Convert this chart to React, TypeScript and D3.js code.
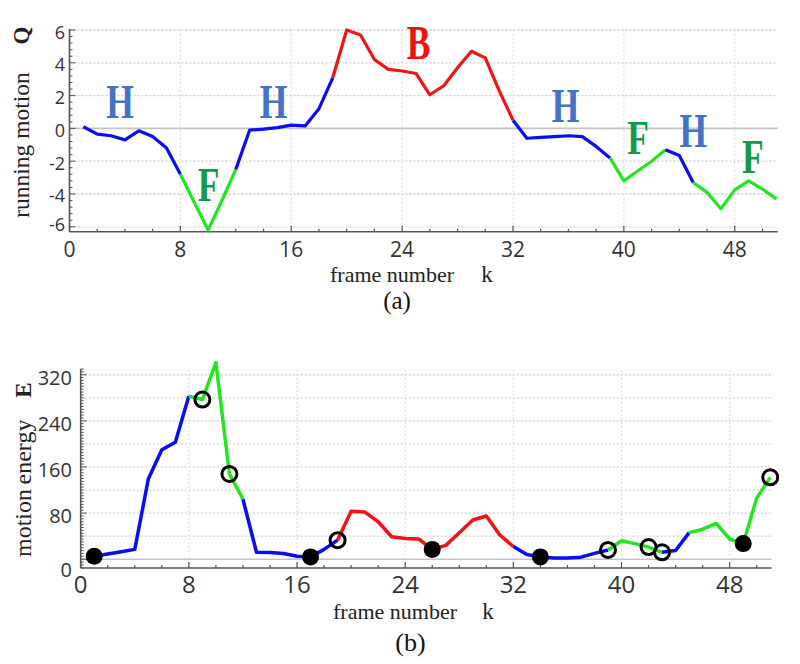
import React from "react";
import * as d3 from "d3";

// ---------------- data ----------------
const frames = [
  1, 2, 3, 4, 5, 6, 7, 8, 9, 10, 11, 12, 13, 14, 15, 16, 17, 18, 19, 20, 21, 22, 23, 24, 25, 26,
  27, 28, 29, 30, 31, 32, 33, 34, 35, 36, 37, 38, 39, 40, 41, 42, 43, 44, 45, 46, 47, 48, 49, 50, 51,
];

const runningMotionQ = [
  0.1, -0.35, -0.45, -0.7, -0.15, -0.5, -1.2, -2.8, -4.5, -6.2, -4.4, -2.5, -0.1, -0.05, 0.05, 0.2,
  0.15, 1.2, 3.1, 6.0, 5.7, 4.2, 3.6, 3.5, 3.35, 2.05, 2.6, 3.7, 4.7, 4.3, 2.3, 0.5, -0.6, -0.55,
  -0.5, -0.45, -0.5, -1.1, -1.8, -3.2, -2.6, -2.0, -1.3, -1.65, -3.3, -3.9, -4.9, -3.75, -3.2, -3.7,
  -4.3,
];

const motionEnergyE = [
  5, 9, 13, 17, 139, 190, 203, 283, 277, 341, 148, 104, 12, 11.5, 10, 5, 4, 17, 33, 83, 82, 65, 39,
  36, 35, 17, 24, 46, 68, 75, 42, 22, 8, 4, 2, 2, 3.5, 10, 16, 32, 27, 21, 12, 15, 46, 52, 62, 35,
  27, 106, 142,
];

const phaseSegments = [
  { phase: "H", from: 1, to: 8 },
  { phase: "F", from: 8, to: 12 },
  { phase: "H", from: 12, to: 19 },
  { phase: "B", from: 19, to: 32 },
  { phase: "H", from: 32, to: 39 },
  { phase: "F", from: 39, to: 43 },
  { phase: "H", from: 43, to: 45 },
  { phase: "F", from: 45, to: 51 },
];

const filledMarkerFrames = [1, 17, 26, 34, 49];
const openMarkerFrames = [9, 11, 19, 39, 42, 43, 51];

const xTicks = [0, 8, 16, 24, 32, 40, 48];
const qTicks = [-6, -4, -2, 0, 2, 4, 6];
const eTicks = [0, 80, 160, 240, 320];

const phaseLabels = [
  { label: "H", k: 3.64, q: 0.64 },
  { label: "F", k: 10.03, q: -4.45 },
  { label: "H", k: 14.72, q: 0.64 },
  { label: "B", k: 25.18, q: 4.24 },
  { label: "H", k: 35.79, q: 0.4 },
  { label: "F", k: 41.02, q: -1.55 },
  { label: "H", k: 45.02, q: -1.13 },
  { label: "F", k: 49.31, q: -2.72 },
];

// ---------------- styles ----------------
const lineColors: Record<string, string> = { H: "#0b0bf5", F: "#22e622", B: "#f01414" };
const labelColors: Record<string, string> = { H: "#4472c4", F: "#149a4c", B: "#ee1111" };
const AXIS = "#555";
const GRID = "#cfcfcf";
const SANS = "'Open Sans', 'DejaVu Sans', sans-serif";
const SERIF = "'Liberation Serif', 'DejaVu Serif', serif";

function range(a: number, b: number, step: number) {
  const out: number[] = [];
  for (let v = a; v <= b + 1e-9; v += step) out.push(+v.toFixed(6));
  return out;
}

type PanelProps = {
  values: number[];
  x: d3.ScaleLinear<number, number>;
  y: d3.ScaleLinear<number, number>;
  yTicks: number[];
  yMinorStep: number;
  yGridStep: number;
  yTop: number;
  lineWidth: number;
  xTickFont: number;
  xTickBaselineOffset: number;
  yTickFont: number;
  yTickRight: number;
  yTickShift: (v: number) => number;
};

function Panel(p: PanelProps) {
  const { x, y, values } = p;
  const [x0, x1] = x.range();
  const yBottom = y.range()[0];
  const [dMin, dMax] = y.domain();
  const pts = frames.map((k, i) => ({ k, v: values[i] }));
  const line = d3
    .line<{ k: number; v: number }>()
    .x((d) => x(d.k))
    .y((d) => y(d.v));
  const gridYs = range(Math.ceil(dMin / p.yGridStep) * p.yGridStep, dMax, p.yGridStep).filter(
    (v) => v !== 0
  );
  const minorY = range(Math.ceil(dMin / p.yMinorStep) * p.yMinorStep, dMax, p.yMinorStep);
  const minorX = range(0, x.domain()[1], 2);
  return (
    <g>
      {/* grid */}
      {gridYs.map((v) => (
        <line
          key={"gy" + v}
          x1={x0}
          x2={x1}
          y1={y(v)}
          y2={y(v)}
          stroke={GRID}
          strokeWidth={1.3}
          strokeDasharray="2 2"
        />
      ))}
      {xTicks
        .filter((t) => t > 0)
        .map((t) => (
          <line
            key={"gx" + t}
            x1={x(t)}
            x2={x(t)}
            y1={yBottom}
            y2={p.yTop}
            stroke="#dedede"
            strokeWidth={1.1}
            strokeDasharray="2 2"
          />
        ))}
      <line x1={x0} x2={x1} y1={y(0)} y2={y(0)} stroke="#c4c4c4" strokeWidth={1.6} />
      {/* axes */}
      <line x1={x0} x2={x1} y1={yBottom} y2={yBottom} stroke={AXIS} strokeWidth={1.6} />
      <line x1={x0} x2={x0} y1={yBottom} y2={p.yTop} stroke={AXIS} strokeWidth={1.6} />
      {minorX.map((t) => (
        <line
          key={"mx" + t}
          x1={x(t)}
          x2={x(t)}
          y1={yBottom}
          y2={yBottom - (t % 8 === 0 ? 6 : 3)}
          stroke={AXIS}
          strokeWidth={1.2}
        />
      ))}
      {minorY.map((v) => (
        <line
          key={"my" + v}
          x1={x0}
          x2={x0 + (p.yTicks.includes(v) ? 6 : 3)}
          y1={y(v)}
          y2={y(v)}
          stroke={AXIS}
          strokeWidth={1}
        />
      ))}
      {xTicks.map((t) => (
        <text
          key={"xl" + t}
          x={x(t)}
          y={yBottom + p.xTickBaselineOffset}
          fontFamily={SANS}
          fontSize={p.xTickFont}
          textAnchor="middle"
          fill="#333"
        >
          {t}
        </text>
      ))}
      {p.yTicks.map((v) => (
        <text
          key={"yl" + v}
          x={p.yTickRight}
          y={y(v) + p.yTickShift(v)}
          fontFamily={SANS}
          fontSize={p.yTickFont}
          textAnchor="end"
          dominantBaseline="central"
          fill="#333"
        >
          {v}
        </text>
      ))}
      {/* colored line segments */}
      {phaseSegments.map((s, i) => (
        <path
          key={"seg" + i}
          d={line(pts.filter((d) => d.k >= s.from && d.k <= s.to)) || ""}
          fill="none"
          stroke={lineColors[s.phase]}
          strokeWidth={p.lineWidth}
          strokeLinejoin="round"
          strokeLinecap="butt"
        />
      ))}
    </g>
  );
}

export default function App() {
  const xA = d3.scaleLinear().domain([0, 51.1]).range([69.5, 777.7]);
  const yA = d3.scaleLinear().domain([-6.3, 6.0]).range([231.7, 30.0]);
  const xB = d3.scaleLinear().domain([0, 51.1]).range([80.7, 771.6]);
  const yB = d3.scaleLinear().domain([-15.3, 330]).range([568, 369]);

  return (
    <svg
      width={800}
      height={664}
      style={{ position: "absolute", left: 0, top: 0, background: "#fff" }}
    >
      <rect width={800} height={664} fill="#fff" />
      {/* Panel (a) */}
      <Panel
        values={runningMotionQ}
        x={xA}
        y={yA}
        yTicks={qTicks}
        yMinorStep={0.4}
        yGridStep={2}
        yTop={29}
        lineWidth={3.2}
        xTickFont={21}
        xTickBaselineOffset={25}
        yTickFont={18}
        yTickRight={65}
        yTickShift={(v) => (v === -6 ? -2.5 : 1.5)}
      />
      {phaseLabels.map((l, i) => (
        <text
          key={"pl" + i}
          transform={`translate(${xA(l.k)},${yA(l.q)}) scale(0.74,1)`}
          fontFamily={SERIF}
          fontWeight="bold"
          fontSize={48}
          textAnchor="middle"
          fill={labelColors[l.label]}
        >
          {l.label}
        </text>
      ))}
      <text x={392} y={282} fontFamily={SERIF} fontSize={22} textAnchor="middle" fill="#222">
        frame number
      </text>
      <text x={487} y={282} fontFamily={SERIF} fontSize={23} textAnchor="middle" fill="#222">
        k
      </text>
      <text x={397} y={309} fontFamily={SERIF} fontSize={25} textAnchor="middle" fill="#111">
        (a)
      </text>
      <text
        transform="translate(29,145) rotate(-90)"
        fontFamily={SERIF}
        fontSize={23.5}
        textAnchor="middle"
        fill="#222"
      >
        running motion
      </text>
      <text
        transform="translate(29,35.5) rotate(-90)"
        fontFamily={SERIF}
        fontSize={23}
        fontWeight="bold"
        textAnchor="middle"
        fill="#222"
      >
        Q
      </text>

      {/* Panel (b) */}
      <Panel
        values={motionEnergyE}
        x={xB}
        y={yB}
        yTicks={eTicks}
        yMinorStep={5}
        yGridStep={40}
        yTop={369}
        lineWidth={3.5}
        xTickFont={24}
        xTickBaselineOffset={25}
        yTickFont={20}
        yTickRight={72}
        yTickShift={(v) => (v === 0 ? 10.5 : 2.5)}
      />
      {filledMarkerFrames.map((k) => (
        <circle
          key={"fm" + k}
          cx={xB(k)}
          cy={yB(motionEnergyE[frames.indexOf(k)])}
          r={8.5}
          fill="#000"
        />
      ))}
      {openMarkerFrames.map((k) => (
        <circle
          key={"om" + k}
          cx={xB(k)}
          cy={yB(motionEnergyE[frames.indexOf(k)])}
          r={7.5}
          fill="none"
          stroke="#000"
          strokeWidth={3}
        />
      ))}
      <text x={395} y={619} fontFamily={SERIF} fontSize={22} textAnchor="middle" fill="#222">
        frame number
      </text>
      <text x={488} y={619} fontFamily={SERIF} fontSize={23} textAnchor="middle" fill="#222">
        k
      </text>
      <text x={410.5} y={651} fontFamily={SERIF} fontSize={26} textAnchor="middle" fill="#111">
        (b)
      </text>
      <text
        transform="translate(31,523) rotate(-90)"
        fontFamily={SERIF}
        fontSize={24}
        textAnchor="middle"
        fill="#222"
      >
        motion
      </text>
      <text
        transform="translate(31,452) rotate(-90)"
        fontFamily={SERIF}
        fontSize={24}
        textAnchor="middle"
        fill="#222"
      >
        energy
      </text>
      <text
        transform="translate(31,390) rotate(-90)"
        fontFamily={SERIF}
        fontSize={23}
        fontWeight="bold"
        textAnchor="middle"
        fill="#222"
      >
        E
      </text>
    </svg>
  );
}
